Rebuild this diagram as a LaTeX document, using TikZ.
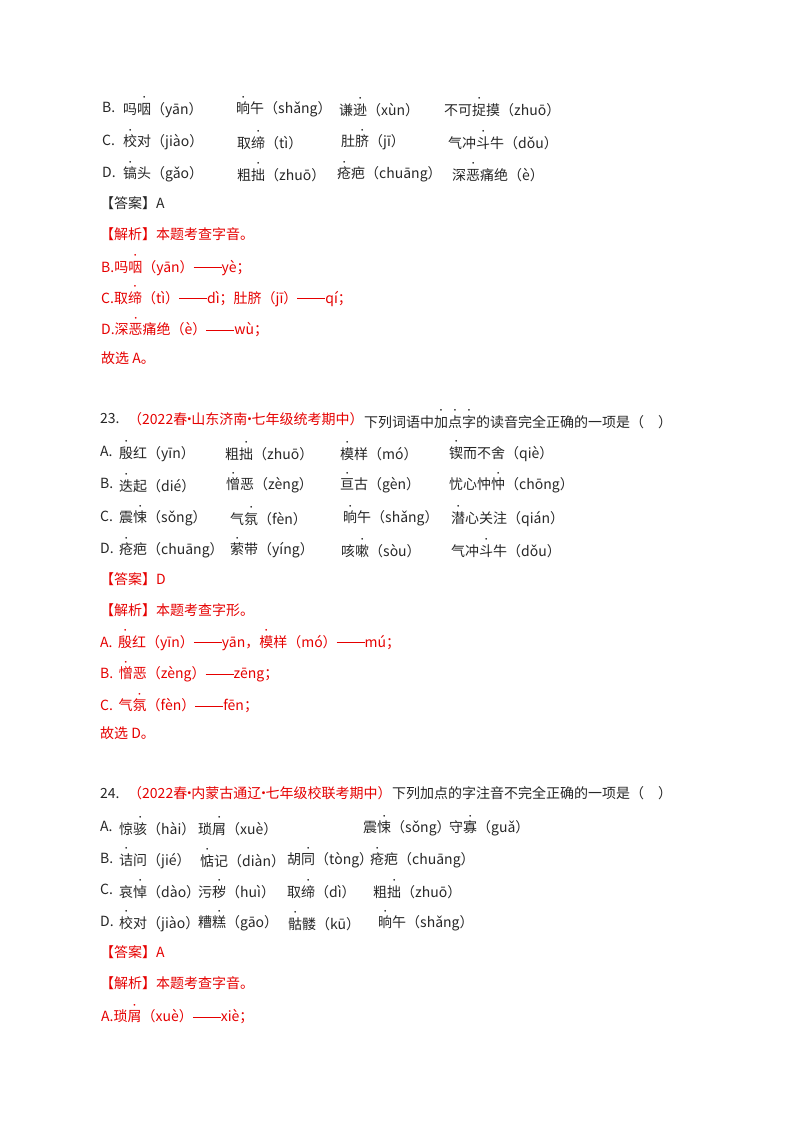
\documentclass[tikz,border=0pt]{standalone}
\usepackage{fontspec}
\usepackage{graphicx}
\setmainfont{Noto Sans CJK SC}
\newcommand\zd[1]{\makebox[0pt][l]{\makebox[1em]{\raisebox{0.95em}{\scalebox{0.6}{•}}}}#1}
\newcommand\zz{\rule[0.32em]{2em}{0.5pt}}
\newcommand\md{\makebox[0.3em]{·}}
\tikzset{
  ln/.style={anchor=west, inner sep=0pt, font=\fontsize{14}{16}\selectfont, text=black!85},
  rd/.style={ln, text=red!90!black}
}
\begin{document}
\begin{tikzpicture}[x=1pt,y=-1pt]
  \useasboundingbox (0,0) rectangle (800,1132);

  % 上一题选项
  \node[ln] (b0) at (102,107) {B.};
  \node[ln] (b1) at (123,107) {吗\zd{咽}（yān）};
  \node[ln] (b2) at (236,107) {\zd{晌}午（shǎng）};
  \node[ln] (b3) at (339,107) {谦\zd{逊}（xùn）};
  \node[ln] (b4) at (444,107) {不可\zd{捉}摸（zhuō）};
  \node[ln] (c0) at (102,140) {C.};
  \node[ln] (c1) at (123,140) {\zd{校}对（jiào）};
  \node[ln] (c2) at (237,140) {取\zd{缔}（tì）};
  \node[ln] (c3) at (341,140) {肚\zd{脐}（jī）};
  \node[ln] (c4) at (448,140) {气冲\zd{斗}牛（dǒu）};
  \node[ln] (d0) at (102,172) {D.};
  \node[ln] (d1) at (123,172) {\zd{镐}头（gǎo）};
  \node[ln] (d2) at (237,172) {粗\zd{拙}（zhuō）};
  \node[ln] (d3) at (337,172) {\zd{疮}疤（chuāng）};
  \node[ln] (d4) at (452,172) {深\zd{恶}痛绝（è）};
  \node[ln] (ans1) at (100,203) {【答案】A};
  \node[rd] (jx1) at (100,234) {【解析】本题考查字音。};
  \node[rd] (jb1) at (101,265) {B.吗\zd{咽}（yān）\zz yè；};
  \node[rd] (jc1) at (101,296) {C.取\zd{缔}（tì）\zz dì；肚脐（jī）\zz qí；};
  \node[rd] (jd1) at (101,327) {D.深\zd{恶}痛绝（è）\zz wù；};
  \node[rd] (gx1) at (101,358) {故选 A。};

  % 第23题
  \node[ln] (q23) at (100,419) {23.};
  \node[rd] (s23) at (128,419) {（2022春\md 山东济南\md 七年级统考期中）};
  \node[ln, anchor=west] (t23) at (s23.east) {下列词语中\zd{加}\zd{点}\zd{字}的读音完全正确的一项是（\quad）};
  \node[ln] (a0) at (100,451) {A.};
  \node[ln] (a1) at (119,451) {\zd{殷}红（yīn）};
  \node[ln] (a2) at (225,451) {粗\zd{拙}（zhuō）};
  \node[ln] (a3) at (340,451) {\zd{模}样（mó）};
  \node[ln] (a4) at (449,451) {\zd{锲}而不舍（qiè）};
  \node[ln] (e0) at (100,483) {B.};
  \node[ln] (e1) at (119,483) {\zd{迭}起（dié）};
  \node[ln] (e2) at (226,483) {\zd{憎}恶（zèng）};
  \node[ln] (e3) at (340,483) {\zd{亘}古（gèn）};
  \node[ln] (e4) at (449,483) {忧心忡\zd{忡}（chōng）};
  \node[ln] (f0) at (100,516) {C.};
  \node[ln] (f1) at (119,516) {震\zd{悚}（sǒng）};
  \node[ln] (f2) at (230,516) {气\zd{氛}（fèn）};
  \node[ln] (f3) at (343,516) {\zd{晌}午（shǎng）};
  \node[ln] (f4) at (451,516) {\zd{潜}心关注（qián）};
  \node[ln] (g0) at (100,548) {D.};
  \node[ln] (g1) at (119,548) {\zd{疮}疤（chuāng）};
  \node[ln] (g2) at (230,548) {\zd{萦}带（yíng）};
  \node[ln] (g3) at (341,548) {咳\zd{嗽}（sòu）};
  \node[ln] (g4) at (451,548) {气冲\zd{斗}牛（dǒu）};
  \node[rd] (ans2) at (100,579) {【答案】D};
  \node[rd] (jx2) at (100,610) {【解析】本题考查字形。};
  \node[rd] (ja2) at (100,640) {A.\hspace{0.4em}\zd{殷}红（yīn）\zz yān，\zd{模}样（mó）\zz mú；};
  \node[rd] (jb2) at (100,672) {B.\hspace{0.4em}\zd{憎}恶（zèng）\zz zēng；};
  \node[rd] (jc2) at (100,703) {C.\hspace{0.4em}气\zd{氛}（fèn）\zz fēn；};
  \node[rd] (gx2) at (100,733) {故选 D。};

  % 第24题
  \node[ln] (q24) at (100,793) {24.};
  \node[rd] (s24) at (128,793) {（2022春\md 内蒙古通辽\md 七年级校联考期中）};
  \node[ln, anchor=west] (t24) at (s24.east) {下列加点的字注音不完全正确的一项是（\quad）};
  \node[ln] (h0) at (100,826) {A.};
  \node[ln] (h1) at (119,826) {惊\zd{骇}（hài）};
  \node[ln] (h2) at (198,826) {琐\zd{屑}（xuè）};
  \node[ln] (h3) at (363,826) {震\zd{悚}（sǒng）};
  \node[ln] (h4) at (449,826) {守\zd{寡}（guǎ）};
  \node[ln] (i0) at (100,858) {B.};
  \node[ln] (i1) at (119,858) {\zd{诘}问（jié）};
  \node[ln] (i2) at (200,858) {\zd{惦}记（diàn）};
  \node[ln] (i3) at (287,858) {胡\zd{同}（tòng）};
  \node[ln] (i4) at (370,858) {\zd{疮}疤（chuāng）};
  \node[ln] (k0) at (100,889) {C.};
  \node[ln] (k1) at (119,889) {哀\zd{悼}（dào）};
  \node[ln] (k2) at (198,889) {污\zd{秽}（huì）};
  \node[ln] (k3) at (287,889) {取\zd{缔}（dì）};
  \node[ln] (k4) at (373,889) {粗\zd{拙}（zhuō）};
  \node[ln] (m0) at (100,921) {D.};
  \node[ln] (m1) at (119,921) {\zd{校}对（jiào）};
  \node[ln] (m2) at (198,921) {糟\zd{糕}（gāo）};
  \node[ln] (m3) at (288,921) {\zd{骷}髅（kū）};
  \node[ln] (m4) at (378,921) {\zd{晌}午（shǎng）};
  \node[rd] (ans3) at (100,952) {【答案】A};
  \node[rd] (jx3) at (100,983) {【解析】本题考查字音。};
  \node[rd] (ja3) at (101,1014) {A.琐\zd{屑}（xuè）\zz xiè；};
\end{tikzpicture}
\end{document}
